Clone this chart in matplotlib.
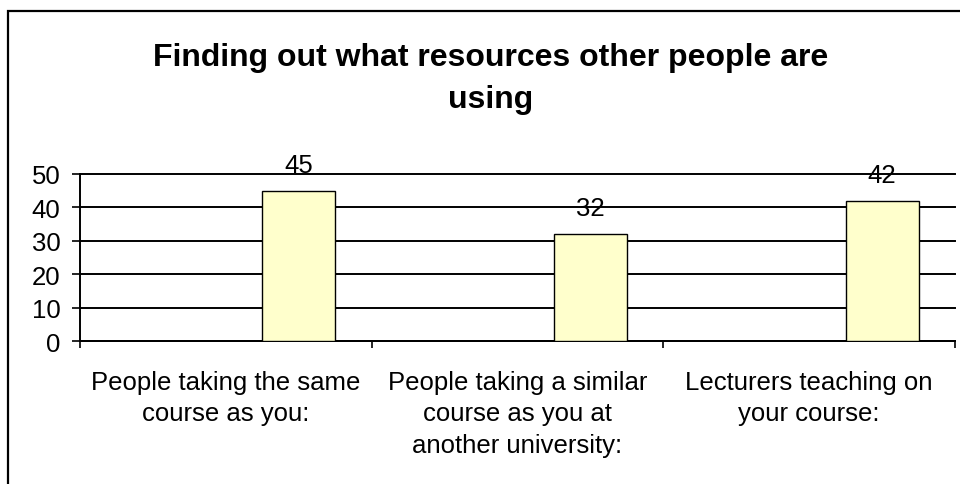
import matplotlib.pyplot as plt
from matplotlib.patches import Rectangle

plt.rcParams['font.family'] = ['Liberation Sans', 'DejaVu Sans']

categories = ["People taking the same\ncourse as you:",
              "People taking a similar\ncourse as you at\nanother university:",
              "Lecturers teaching on\nyour course:"]
counts = [45, 32, 42]
title = "Finding out what resources other people are\nusing"

W, H = 960, 485
fig = plt.figure(figsize=(W / 100, H / 100), dpi=100)
ax = fig.add_axes([80 / W, 1 - 342 / H, 875 / W, 167 / H])

# chart frame, runs off the right and bottom edges
fig.patches.append(Rectangle((8 / W, -0.1), 1.1, 1 - 12 / H + 0.1,
                             transform=fig.transFigure, fill=False,
                             edgecolor='black', linewidth=1.6))

xs = [i + 0.25 for i in range(len(counts))]
bars = ax.bar(xs, counts, width=0.25, color='#FFFFCC', edgecolor='black',
              linewidth=1.0, zorder=3)
for b, v in zip(bars, counts):
    ax.annotate(str(v), (b.get_x() + b.get_width() / 2, v),
                xytext=(0, 10), textcoords='offset points',
                ha='center', va='bottom', fontsize=18.5, zorder=4)

ax.set_xlim(-0.5, len(counts) - 0.5)
ax.set_ylim(0, 50)
ax.set_yticks(range(0, 51, 10))
ax.yaxis.grid(True, color='black', linewidth=1.4, zorder=1)
ax.set_axisbelow(True)
for gl in ax.get_ygridlines():
    gl.set_clip_on(False)

ax.set_xticks([i - 0.5 for i in range(len(counts) + 1)])
ax.set_xticklabels([])
ax.set_xticks(range(len(counts)), minor=True)
ax.set_xticklabels(categories, minor=True, fontsize=18.5, linespacing=1.38)
ax.tick_params(axis='x', which='minor', length=0, pad=21)
ax.tick_params(axis='x', which='major', length=5, width=1.2, direction='out')
ax.tick_params(axis='y', length=6, width=1.2, labelsize=18.5, pad=8)

for s in ('top', 'right'):
    ax.spines[s].set_visible(False)
for s in ('left', 'bottom'):
    ax.spines[s].set_linewidth(1.4)

fig.text(491 / W, 1 - 79 / H, title, ha='center', va='center',
         fontsize=23, fontweight='bold', linespacing=1.5)

fig.savefig('out.png', dpi=100)
